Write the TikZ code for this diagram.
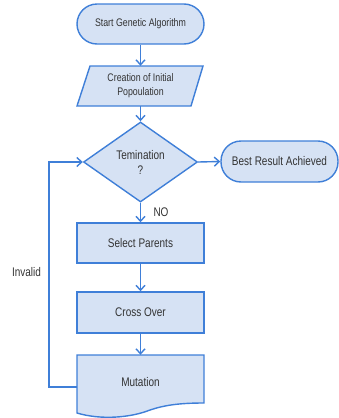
\documentclass[tikz,border=0pt]{standalone}
\usepackage{fontspec}
\setmainfont{Liberation Sans}[FakeStretch=0.8]
\usetikzlibrary{shapes.geometric,arrows.meta}
\definecolor{lineblue}{HTML}{3F7FD8}
\definecolor{fillblue}{HTML}{D6E2F4}
\definecolor{txt}{HTML}{333333}
\begin{document}
\begin{tikzpicture}[x=1pt,y=-1pt,
  shp/.style={draw=lineblue,fill=fillblue,line width=1.4pt,text=txt,
    font=\fontsize{12.5}{15}\selectfont,align=center,inner sep=0pt},
  procbox/.style={shp,rectangle,minimum width=127pt,minimum height=40pt},
  term/.style={shp,rectangle,rounded corners=20pt,minimum height=40pt},
  ghost/.style={draw=none,fill=none,text=txt,align=center,inner sep=0pt},
  conn/.style={draw=lineblue,line width=1.4pt,-{Straight Barb[length=5pt,width=9pt]}},
  lbl/.style={text=txt,font=\fontsize{12.5}{15}\selectfont,inner sep=0pt}]
\useasboundingbox (0,0) rectangle (339,418);
% start
\node[term,minimum width=127pt,font=\fontsize{11}{13}\selectfont] (start) at (140.5,24) {Start Genetic Algorithm};
% parallelogram
\path[shp] (90,66) -- (203,66) -- (191,106) -- (77,106) -- cycle;
\node[ghost,minimum width=114pt,minimum height=40pt,font=\fontsize{11}{14}\selectfont] (para) at (140.5,86) {Creation of Initial\\Popoulation};
% decision
\node[shp,diamond,aspect=1.425,minimum width=114pt,minimum height=80pt] (dec) at (140.5,162) {Temination\\?};
% best
\node[term,minimum width=117pt,minimum height=41pt] (best) at (279.5,161.5) {Best Result Achieved};
% process boxes
\node[procbox] (sel) at (140.5,243) {Select Parents};
\node[procbox,minimum height=41pt] (cross) at (140.5,312.5) {Cross Over};
% mutation (document shape)
\path[shp] (77,355) -- (204,355) -- (204,403)
  .. controls (180,403) and (165,405) .. (150,410)
  .. controls (130,418) and (100,420) .. (77,413) -- cycle;
\node[ghost,minimum width=127pt,minimum height=47pt] (mut) at (140.5,378.5) {};
\node[lbl] (muttext) at (140.5,382) {Mutation};
% labels
\node[lbl] (no) at (161,212) {NO};
\node[lbl] (invalid) at (26.5,272) {Invalid};
% connectors
\draw[conn] (start.south) -- (para.north);
\draw[conn] (para.south) -- (dec.north);
\draw[conn] (dec.east) -- (best.west);
\draw[conn] (dec.south) -- (sel.north);
\draw[conn] (sel.south) -- (cross.north);
\draw[conn] (cross.south) -- (mut.north);
\coordinate (fb) at (77,387);
\coordinate (loopx) at (49,162);
\draw[conn] (fb) -| (loopx) -- (dec.west);
\end{tikzpicture}
\end{document}
